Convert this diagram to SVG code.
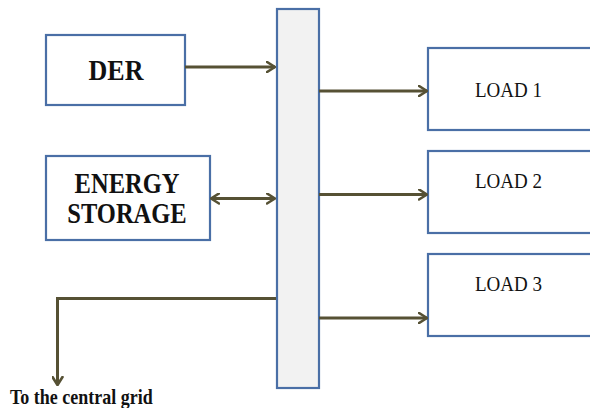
<svg xmlns="http://www.w3.org/2000/svg" width="590" height="408" viewBox="0 0 590 408">
  <style>
    .box { fill: #ffffff; stroke: #4a6fa6; stroke-width: 2.2; }
    .bus { fill: #f2f2f2; stroke: #4a6fa6; stroke-width: 2.2; }
    .conn { fill: none; stroke: #565134; stroke-width: 3; }
    .bt { font-family: "Liberation Serif", "Times New Roman", serif; font-weight: bold; fill: #111; }
    .lt { font-family: "Liberation Serif", "Times New Roman", serif; fill: #111; }
  </style>
  <defs>
    <marker id="ah" viewBox="0 0 10 12" refX="9" refY="6" markerWidth="10" markerHeight="12" markerUnits="userSpaceOnUse" orient="auto-start-reverse">
      <path d="M1,1 L9,6 L1,11" fill="none" stroke="#565134" stroke-width="2.6" stroke-linecap="round" stroke-linejoin="round"/>
    </marker>
  </defs>

  <g id="bus">
    <rect class="bus" x="277" y="9" width="42" height="379"/>
  </g>

  <g id="der">
    <rect class="box" x="46" y="35" width="139" height="70"/>
    <text class="bt" font-size="26" text-anchor="middle" transform="translate(116,80) scale(1,1.1)">DER</text>
  </g>

  <g id="energy-storage">
    <rect class="box" x="46" y="156" width="164" height="84"/>
    <text class="bt" font-size="24.5" text-anchor="middle" transform="translate(127,193) scale(1,1.17)">ENERGY</text>
    <text class="bt" font-size="24.5" text-anchor="middle" transform="translate(127,223) scale(1,1.17)">STORAGE</text>
  </g>

  <g id="load1">
    <rect class="box" x="428" y="48" width="200" height="82"/>
    <text class="lt" font-size="19" transform="translate(475,97) scale(1,1.05)">LOAD 1</text>
  </g>

  <g id="load2">
    <rect class="box" x="428" y="151" width="200" height="82"/>
    <text class="lt" font-size="19" transform="translate(475,187.5) scale(1,1.05)">LOAD 2</text>
  </g>

  <g id="load3">
    <rect class="box" x="428" y="254" width="200" height="82"/>
    <text class="lt" font-size="19" transform="translate(475,291) scale(1,1.05)">LOAD 3</text>
  </g>

  <g id="grid-label">
    <text class="bt" font-size="18" transform="translate(10,403.5) scale(1,1.12)">To the central grid</text>
  </g>

  <g id="connectors">
    <line class="conn" x1="185" y1="67" x2="275" y2="67" marker-end="url(#ah)"/>
    <line class="conn" x1="211" y1="198.5" x2="275" y2="198.5" marker-start="url(#ah)" marker-end="url(#ah)"/>
    <line class="conn" x1="319" y1="91" x2="427" y2="91" marker-end="url(#ah)"/>
    <line class="conn" x1="319" y1="194.5" x2="427" y2="194.5" marker-end="url(#ah)"/>
    <line class="conn" x1="319" y1="318" x2="427" y2="318" marker-end="url(#ah)"/>
    <polyline class="conn" points="276,298.5 57.5,298.5 57.5,385" marker-end="url(#ah)"/>
  </g>
</svg>
